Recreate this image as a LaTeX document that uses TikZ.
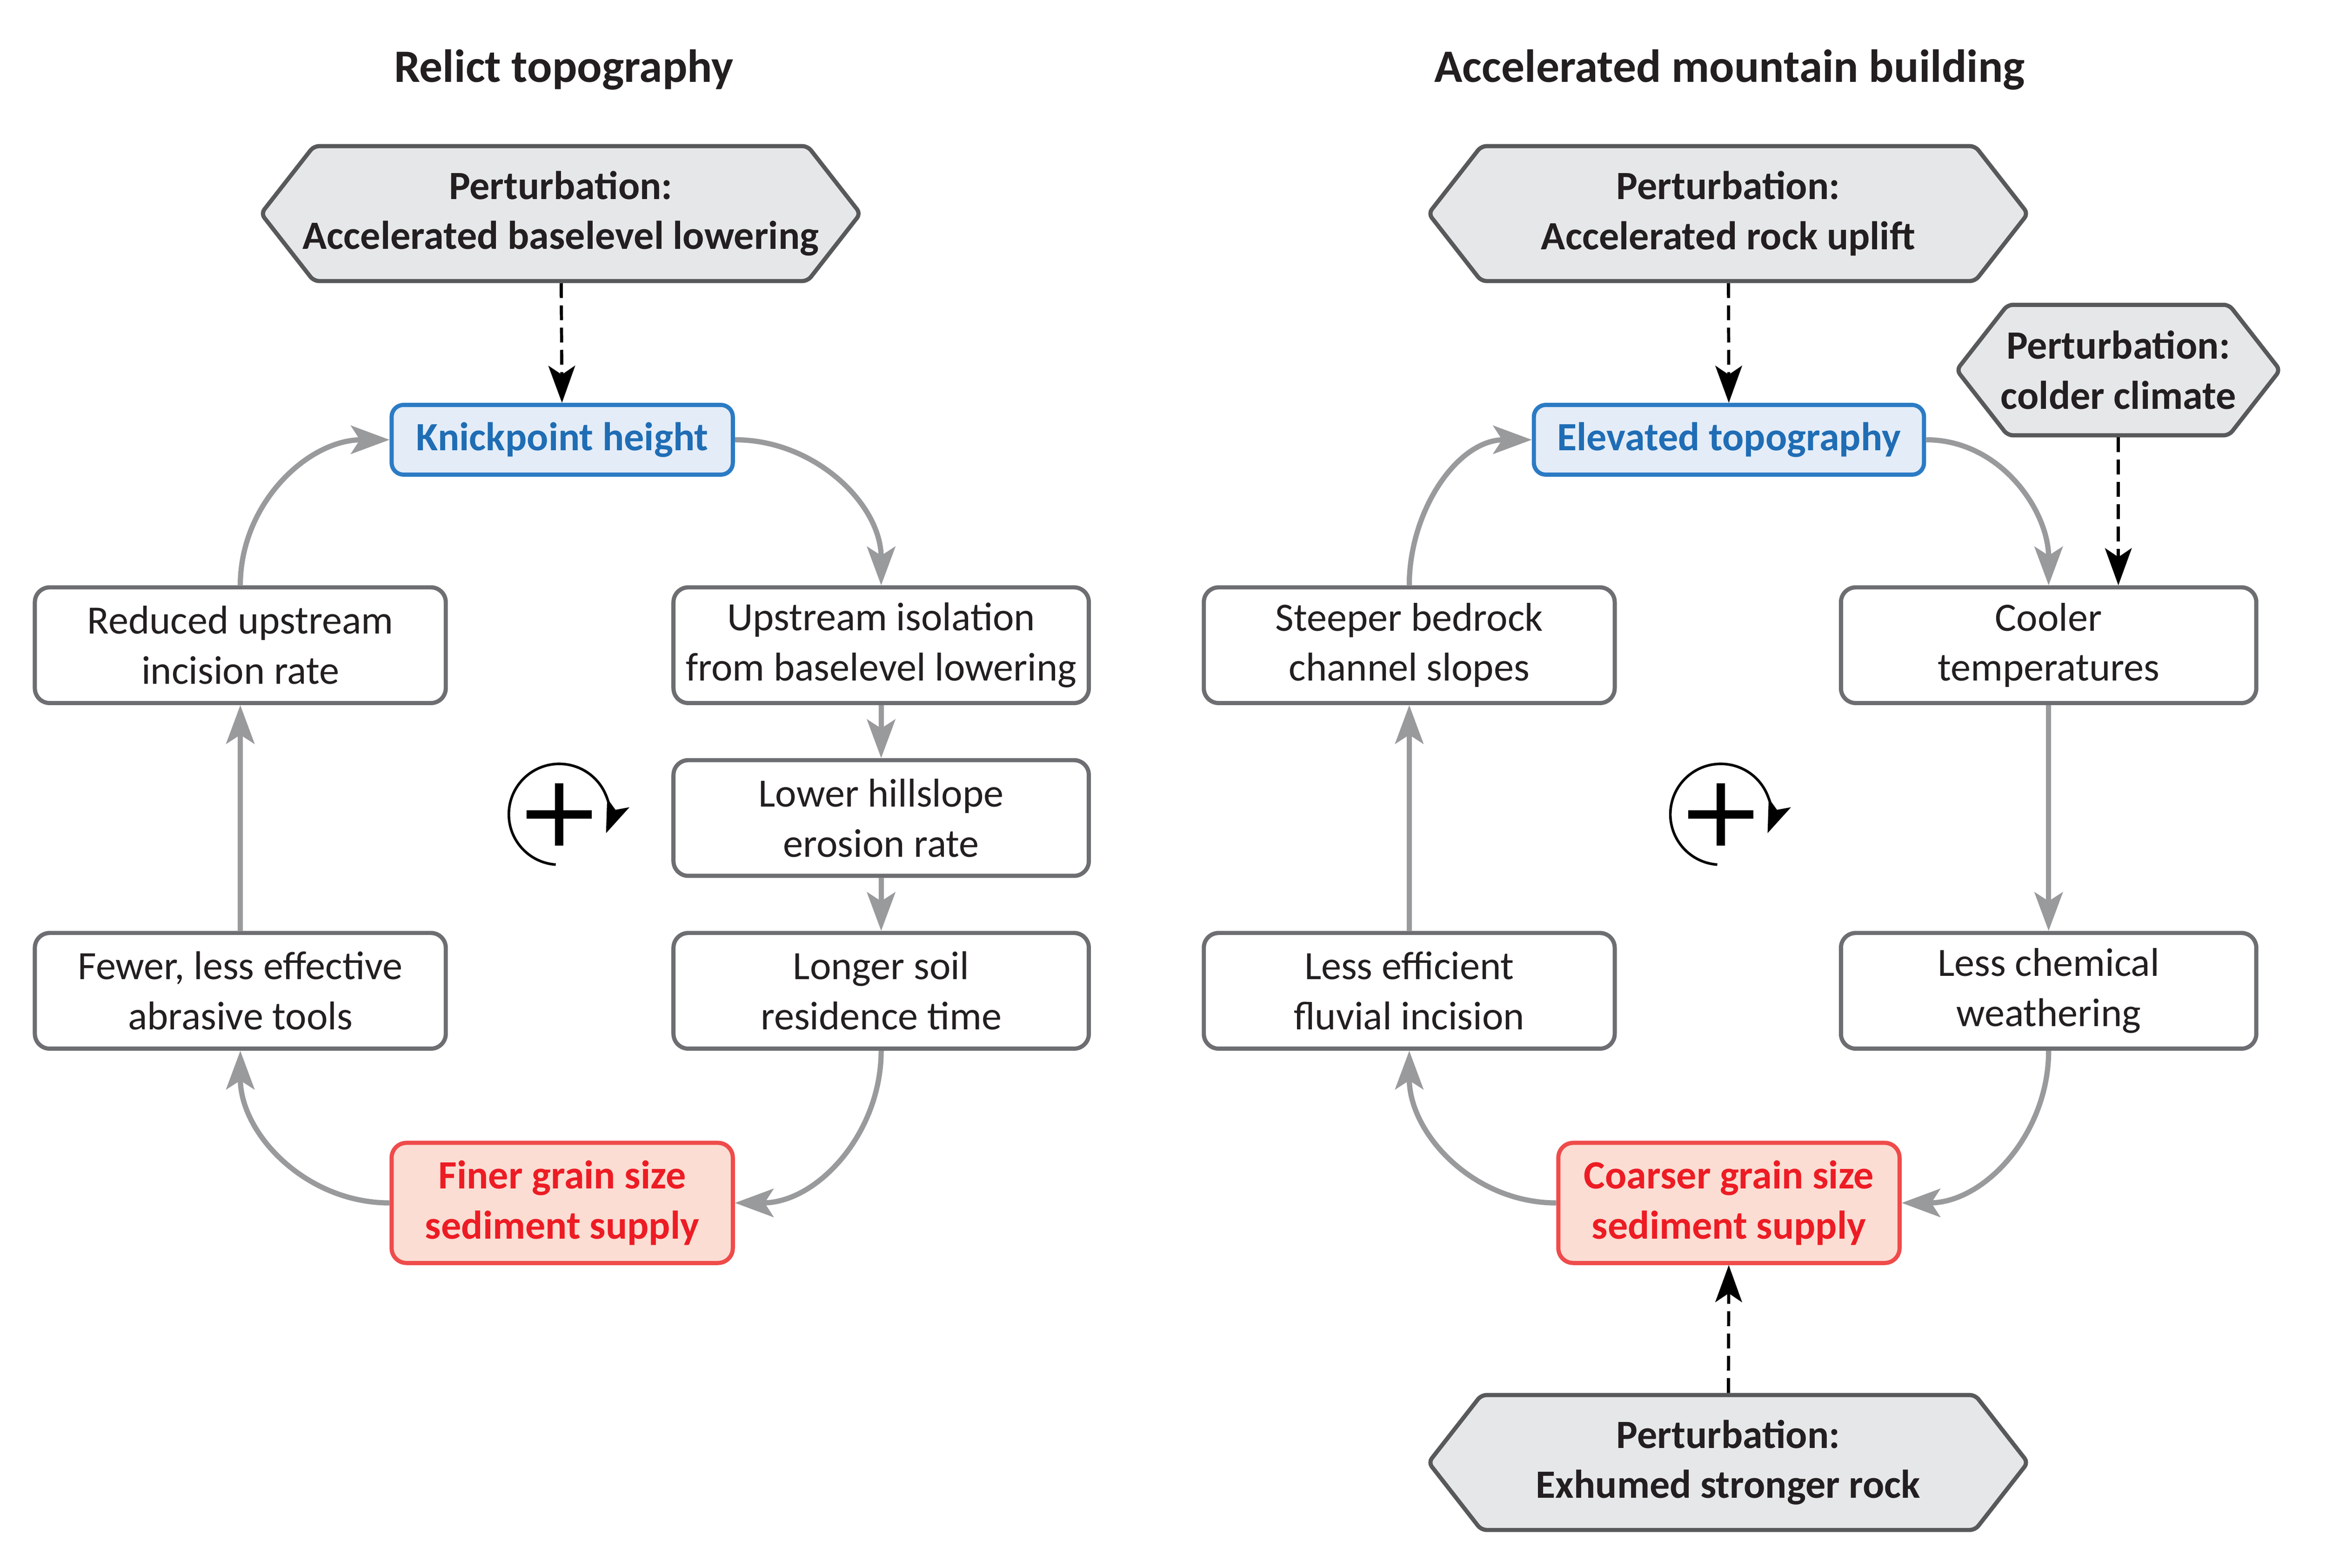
\documentclass[tikz,border=0pt]{standalone}
\usepackage{fontspec}
\setmainfont{Carlito}
\usetikzlibrary{arrows.meta,shapes.symbols}

\definecolor{ink}{HTML}{231F20}
\definecolor{boxline}{HTML}{6D6E71}
\definecolor{hexfill}{HTML}{E6E7E8}
\definecolor{hexline}{HTML}{58595B}
\definecolor{keyfill}{HTML}{E4ECF7}
\definecolor{keyline}{HTML}{2B7BC4}
\definecolor{keytext}{HTML}{1F6DB5}
\definecolor{grainfill}{HTML}{FBDDD3}
\definecolor{grainline}{HTML}{EF4B4B}
\definecolor{graintext}{HTML}{ED1C24}
\definecolor{loopgray}{HTML}{999A9C}

\begin{document}
\begin{tikzpicture}[
	font=\fontsize{7.7}{9.6}\selectfont,
	every node/.style={text=ink},
	heading/.style={font=\fontsize{8.9}{10}\selectfont\bfseries},
	fact/.style={draw=boxline, line width=0.8pt, rounded corners=0.1cm, fill=white, align=center, minimum width=2.77cm, minimum height=0.78cm, inner sep=0pt},
	key/.style={draw=keyline, line width=0.8pt, rounded corners=0.08cm, fill=keyfill, text=keytext, font=\fontsize{7.7}{9.6}\selectfont\bfseries, minimum height=0.47cm, inner sep=0pt},
	grain/.style={draw=grainline, line width=0.8pt, rounded corners=0.1cm, fill=grainfill, text=graintext, font=\fontsize{7.7}{9.6}\selectfont\bfseries, align=center, minimum width=2.3cm, minimum height=0.81cm, inner sep=0pt},
	pert/.style={signal, signal to=west and east, signal pointer angle=104, draw=hexline, fill=hexfill, line width=0.8pt, rounded corners=1pt, font=\fontsize{7.7}{9.6}\selectfont\bfseries, align=center, minimum width=4.04cm, minimum height=0.91cm, inner sep=0pt},
	loop/.style={draw=loopgray, line width=1pt, -{Stealth[length=2.6mm,width=1.9mm,inset=0.6mm]}},
	forcing/.style={draw=black, line width=0.6pt, dash pattern=on 1mm off 0.5mm, -{Stealth[length=2.5mm,width=1.8mm,inset=0.6mm]}}
]
\useasboundingbox (0,0) rectangle (15.68,-10.57);

% relict topography
\node [heading] (titleleft) at (3.80,-0.47) {Relict topography};
\node [pert, inner xsep=-0.08cm] (hexbase) at (3.78,-1.44) {Perturbation:\\Accelerated baselevel lowering};
\node [key, minimum width=2.3cm] (knick) at (3.79,-2.965) {Knickpoint height};
\node [fact] (reduced) at (1.62,-4.35) {Reduced upstream\\incision rate};
\node [fact, minimum width=2.8cm] (upiso) at (5.94,-4.35) {Upstream isolation\\from baselevel lowering};
\node [fact, minimum width=2.8cm] (hillslope) at (5.94,-5.515) {Lower hillslope\\erosion rate};
\node [fact, minimum width=2.8cm] (soil) at (5.94,-6.68) {Longer soil\\residence time};
\node [fact] (tools) at (1.62,-6.68) {Fewer, less effective\\abrasive tools};
\node [grain] (finer) at (3.79,-8.11) {Finer grain size\\sediment supply};

	\draw[forcing] (hexbase) -- (knick);
	\draw[loop] (reduced.north) to[out=90,in=180] (knick.west);
	\draw[loop] (knick.east) to[out=0,in=90] (upiso.north);
	\draw[loop] (upiso) -- (hillslope);
	\draw[loop] (hillslope) -- (soil);
	\draw[loop] (soil.south) to[out=-90,in=0] (finer.east);
	\draw[loop] (finer.west) to[out=180,in=-90] (tools.south);
	\draw[loop] (tools) -- (reduced);

% accelerated mountain building
\node [heading] (titleright) at (11.66,-0.47) {Accelerated mountain building};
\node [pert] (hexuplift) at (11.65,-1.44) {Perturbation:\\Accelerated rock uplift};
\node [key, minimum width=2.63cm] (elevated) at (11.655,-2.965) {Elevated topography};
\node [pert, inner xsep=-0.05cm, minimum width=2.18cm, minimum height=0.88cm] (colder) at (14.28,-2.495) {Perturbation:\\colder climate};
\node [fact] (steeper) at (9.50,-4.35) {Steeper bedrock\\channel slopes};
\node [fact, minimum width=2.8cm] (cooler) at (13.81,-4.35) {Cooler\\temperatures};
\node [fact] (fluvial) at (9.50,-6.68) {Less efficient\\fluvial incision};
\node [fact, minimum width=2.8cm] (weathering) at (13.81,-6.68) {Less chemical\\weathering};
\node [grain] (coarser) at (11.655,-8.11) {Coarser grain size\\sediment supply};
\node [pert] (hexrock) at (11.65,-9.86) {Perturbation:\\Exhumed stronger rock};

	\draw[forcing] (hexuplift) -- (elevated);
	\draw[forcing] (colder.south) -- (colder.south |- cooler.north);
	\draw[loop] (steeper.north) to[out=90,in=180] (elevated.west);
	\draw[loop] (elevated.east) to[out=0,in=90] (cooler.north);
	\draw[loop] (cooler) -- (weathering);
	\draw[loop] (weathering.south) to[out=-90,in=0] (coarser.east);
	\draw[loop] (coarser.west) to[out=180,in=-90] (fluvial.south);
	\draw[loop] (fluvial) -- (steeper);
	\draw[forcing] (hexrock) -- (coarser);

% positive feedback signs
\foreach \cx in {3.77,11.60} {
	\draw[black, line width=0.5pt, -{Stealth[length=2.2mm,width=1.6mm,inset=0.5mm]}] ([shift={(\cx,-5.49)}]266:0.34) arc[start angle=266, end angle=-22, radius=0.34];
	\draw[black, line width=1.6pt] (\cx-0.22,-5.49) -- (\cx+0.22,-5.49);
	\draw[black, line width=1.6pt] (\cx,-5.28) -- (\cx,-5.70);
}
\end{tikzpicture}
\end{document}
